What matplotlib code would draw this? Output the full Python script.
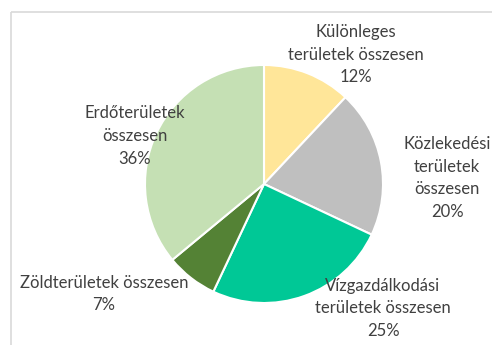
import matplotlib
matplotlib.use("Agg")
import matplotlib.pyplot as plt

# Land-use categories (share of total area, %)
categories = [
    "Különleges\nterületek összesen",
    "Közlekedési\nterületek\nösszesen",
    "Vízgazdálkodási\nterületek összesen",
    "Zöldterületek összesen",
    "Erdőterületek\nösszesen",
]
shares = [12, 20, 25, 7, 36]
colors = ["#FFE699", "#BFBFBF", "#00C896", "#548235", "#C5E0B4"]

# Label anchor points (pixel space, y downward)
label_pos = [(356, 55), (447, 178), (383, 308), (104, 294), (135, 136)]

W, H = 492, 345
fig = plt.figure(figsize=(W / 100, H / 100), dpi=100)
ax = fig.add_axes([0, 0, 1, 1])
ax.set_xlim(0, W)
ax.set_ylim(H, 0)
ax.set_aspect("equal")
ax.axis("off")

# Chart frame (top and left edges visible)
ax.plot([11, W + 5], [12, 12], color="#D9D9D9", lw=1.2, solid_capstyle="butt")
ax.plot([11, 11], [12, H + 5], color="#D9D9D9", lw=1.2, solid_capstyle="butt")

# y axis is inverted, so counterclock=True runs clockwise on screen
ax.pie(shares, colors=colors, startangle=-90, counterclock=True,
       center=(264, 184), radius=119,
       wedgeprops=dict(edgecolor="white", linewidth=1.5))
ax.set_xlim(0, W)
ax.set_ylim(H, 0)

for cat, val, (x, y) in zip(categories, shares, label_pos):
    ax.text(x, y, f"{cat}\n{val}%", ha="center", va="center",
            fontsize=12, family="Lato", color="#404040", linespacing=1.5)

fig.savefig("out.png", dpi=100)
